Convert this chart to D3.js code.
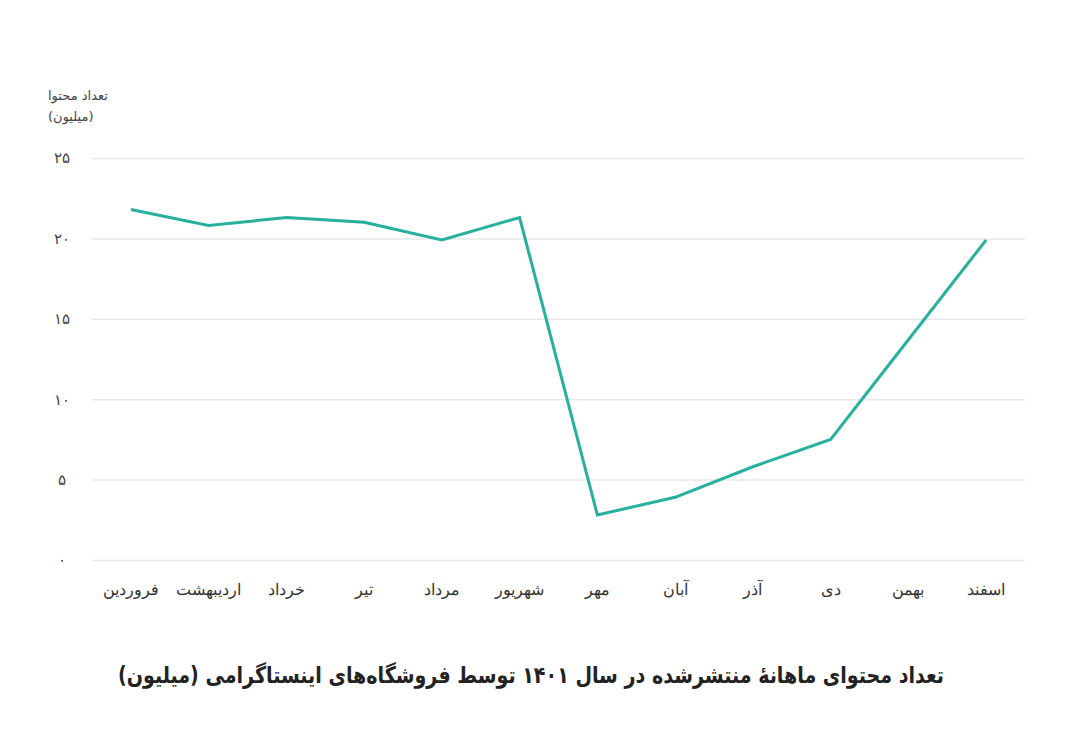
<!DOCTYPE html>
<html><head><meta charset="utf-8">
<script src="https://cdn.jsdelivr.net/npm/d3@7"></script>
<style>
body{margin:0;background:#fff;}
svg{display:block;font-family:"DejaVu Sans","Noto Sans",sans-serif;}
</style></head>
<body>
<svg id="chart" width="1080" height="743"></svg>
<script>
const months = ["فروردین","اردیبهشت","خرداد","تیر","مرداد","شهریور","مهر","آبان","آذر","دی","بهمن","اسفند"];
const values = [21.8, 20.8, 21.3, 21.0, 19.9, 21.3, 2.8, 3.9, 5.8, 7.5, 13.7, 19.9];
const yTicks = [0, 5, 10, 15, 20, 25];
const yTickLabels = ["۰","۵","۱۰","۱۵","۲۰","۲۵"];
const yTitle = ["تعداد محتوا","(میلیون)"];
const title = "تعداد محتوای ماهانهٔ منتشرشده در سال ۱۴۰۱ توسط فروشگاه‌های اینستاگرامی (میلیون)";

const svg = d3.select("#chart");
const m = {left: 92, right: 1025, top: 158, bottom: 560};
const x = d3.scaleBand().domain(months).range([m.left, m.right]).padding(0);
const y = d3.scaleLinear().domain([0, 25]).range([m.bottom, m.top]);

// grid
const yAxis = d3.axisLeft(y).tickValues(yTicks)
  .tickSize(-(m.right - m.left))
  .tickFormat((d, i) => yTickLabels[i]);
const gy = svg.append("g").attr("transform", `translate(${m.left},0)`).call(yAxis);
gy.select(".domain").remove();
gy.selectAll(".tick line").attr("stroke", "#e8e8e8").attr("stroke-width", 1.5);
gy.selectAll(".tick text").attr("x", -30).attr("text-anchor", "middle")
  .attr("fill", "#444").attr("font-size", 15);

// x axis labels
const xAxis = d3.axisBottom(x).tickSize(0).tickPadding(0);
const gx = svg.append("g").attr("transform", `translate(0,${m.bottom + 24})`).call(xAxis);
gx.select(".domain").remove();
gx.selectAll(".tick text").attr("fill", "#333").attr("font-size", 16);

// line
const line = d3.line().x((d, i) => x(months[i]) + x.bandwidth() / 2).y(d => y(d));
svg.append("path").datum(values).attr("d", line)
  .attr("fill", "none").attr("stroke", "#27b09e").attr("stroke-width", 3)
  .attr("stroke-linejoin", "miter");

// y title
svg.selectAll("text.ytitle").data(yTitle).enter().append("text")
  .attr("class", "ytitle")
  .attr("x", 48).attr("y", (d, i) => 100 + i * 21)
  .attr("text-anchor", "start").attr("fill", "#444").attr("font-size", 13)
  .text(d => d);

// title
svg.append("text").attr("x", 531).attr("y", 683).attr("text-anchor", "middle")
  .attr("font-weight", "bold").attr("font-size", 23).attr("fill", "#222")
  .attr("textLength", 826).attr("lengthAdjust", "spacingAndGlyphs")
  .text(title);
</script>
</body></html>
